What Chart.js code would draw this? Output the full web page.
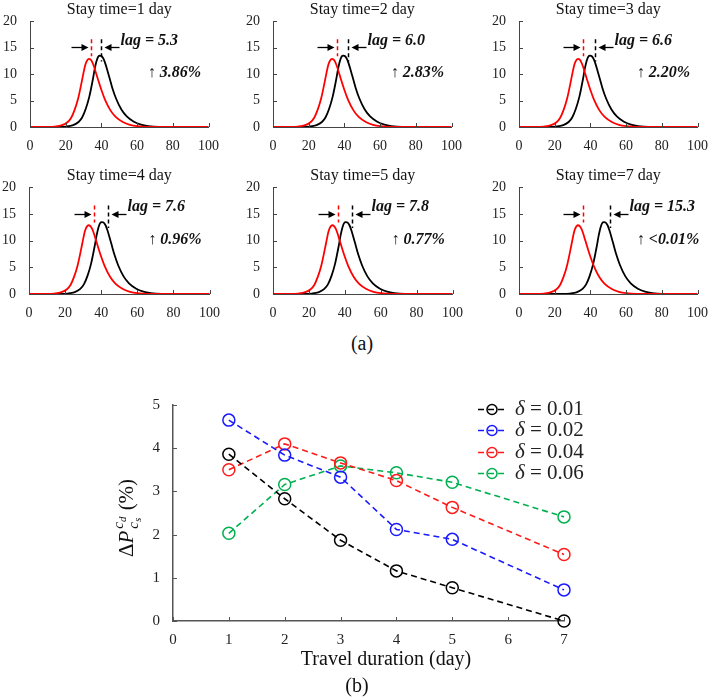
<!DOCTYPE html>
<html>
<head>
<meta charset="utf-8">
<script src="https://cdn.jsdelivr.net/npm/chart.js@4.4.0/dist/chart.umd.min.js"></script>
<style>
  body { margin: 0; width: 719px; height: 699px; background: #fff; position: relative; overflow: hidden; }
  canvas { position: absolute; }
  .cap { position: absolute; font: 20px "Liberation Serif", serif; color: #111; transform: translate(-50%, -50%); }
</style>
</head>
<body>
<div class="cap" style="left:362px;top:343px">(a)</div>
<script>
// ---- data: panel (a) ----
const stayDays = [1, 2, 3, 4, 5, 7];
const lagValues = ['5.3', '6.0', '6.6', '7.6', '7.8', '15.3'];
const riseValues = ['3.86%', '2.83%', '2.20%', '0.96%', '0.77%', '<0.01%'];
const redPeakMark = [34.3, 36.0, 36.1, 35.9, 36.3, 35.6];
const blackPeakMark = [39.6, 42.0, 42.7, 43.5, 44.1, 50.9];

const redX = [0, 9, 14, 18, 21, 23, 25, 27, 29, 30, 31, 32, 33, 34, 35, 36, 37, 38, 40, 42, 45, 48, 52, 56, 60, 66, 100];
const redY = [0, 0.01, 0.09, 0.34, 0.9, 1.7, 3.25, 5.45, 8.6, 10.3, 11.8, 12.6, 12.9, 12.75, 12.2, 11.3, 10.2, 9.1, 7.0, 5.2, 3.2, 1.9, 0.95, 0.42, 0.17, 0.04, 0];

const blackY = [0, 0.01, 0.09, 0.36, 0.95, 1.8, 3.4, 5.7, 9.0, 10.9, 12.4, 13.3, 13.5, 13.4, 12.9, 12.0, 10.9, 9.7, 7.3, 5.4, 3.3, 2.0, 1.0, 0.45, 0.18, 0.04, 0];
const blackXDay1 = [0, 15.2, 20.2, 24.2, 27.2, 29.2, 31.2, 33.2, 35.2, 36.2, 37.2, 38.2, 39.2, 40.2, 41.2, 42.2, 43.2, 44.2, 46.2, 48.2, 51.2, 54.2, 58.2, 62.2, 66.2, 72.2, 100];
const blackXDay2 = [0, 15.4, 20.4, 24.4, 27.4, 29.4, 31.4, 33.4, 35.4, 36.4, 37.4, 38.4, 39.4, 40.4, 41.4, 42.4, 43.4, 44.4, 46.4, 48.4, 51.4, 54.4, 58.4, 62.4, 66.4, 72.4, 100];
const blackXDay3 = [0, 15.8, 20.8, 24.8, 27.8, 29.8, 31.8, 33.8, 35.8, 36.8, 37.8, 38.8, 39.8, 40.8, 41.8, 42.8, 43.8, 44.8, 46.8, 48.8, 51.8, 54.8, 58.8, 62.8, 66.8, 72.8, 100];
const blackXDay4 = [0, 16.4, 21.4, 25.4, 28.4, 30.4, 32.4, 34.4, 36.4, 37.4, 38.4, 39.4, 40.4, 41.4, 42.4, 43.4, 44.4, 45.4, 47.4, 49.4, 52.4, 55.4, 59.4, 63.4, 67.4, 73.4, 100];
const blackXDay5 = [0, 16.6, 21.6, 25.6, 28.6, 30.6, 32.6, 34.6, 36.6, 37.6, 38.6, 39.6, 40.6, 41.6, 42.6, 43.6, 44.6, 45.6, 47.6, 49.6, 52.6, 55.6, 59.6, 63.6, 67.6, 73.6, 100];
const blackXDay7 = [0, 23.6, 28.6, 32.6, 35.6, 37.6, 39.6, 41.6, 43.6, 44.6, 45.6, 46.6, 47.6, 48.6, 49.6, 50.6, 51.6, 52.6, 54.6, 56.6, 59.6, 62.6, 66.6, 70.6, 74.6, 80.6, 100];
const blackXByPanel = [blackXDay1, blackXDay2, blackXDay3, blackXDay4, blackXDay5, blackXDay7];

// ---- data: panel (b) ----
const travelDays = [1, 2, 3, 4, 5, 7];
const deltaLabels = ['0.01', '0.02', '0.04', '0.06'];
const delta001 = [3.86, 2.83, 1.87, 1.16, 0.77, 0.0];
const delta002 = [4.65, 3.84, 3.33, 2.12, 1.89, 0.72];
const delta004 = [3.50, 4.10, 3.66, 3.25, 2.63, 1.54];
const delta006 = [2.03, 3.16, 3.59, 3.43, 3.21, 2.41];

const SERIF = '"Liberation Serif", "Times New Roman", serif';

function toPoints(xs, ys) {
  return xs.map((x, i) => ({ x: x, y: ys[i] }));
}

// small inward tick marks on both axes
const inwardTicks = {
  id: 'inwardTicks',
  afterDraw(chart, args, opts) {
    const ctx = chart.ctx, xs = chart.scales.x, ys = chart.scales.y;
    ctx.save();
    ctx.strokeStyle = opts.color || '#444';
    ctx.lineWidth = 1;
    ctx.beginPath();
    xs.ticks.forEach(t => {
      const p = Math.round(xs.getPixelForValue(t.value)) + 0.5;
      ctx.moveTo(p, ys.bottom); ctx.lineTo(p, ys.bottom - opts.len);
    });
    ys.ticks.forEach(t => {
      const p = Math.round(ys.getPixelForValue(t.value)) + 0.5;
      ctx.moveTo(xs.left, p); ctx.lineTo(xs.left + opts.len, p);
    });
    ctx.stroke();
    ctx.restore();
  }
};

function arrow(ctx, x0, x1, y) {
  const dir = x1 > x0 ? 1 : -1;
  ctx.beginPath();
  ctx.moveTo(x0, y); ctx.lineTo(x1 - dir * 5, y);
  ctx.stroke();
  ctx.beginPath();
  ctx.moveTo(x1, y); ctx.lineTo(x1 - dir * 7, y - 3.5); ctx.lineTo(x1 - dir * 7, y + 3.5);
  ctx.closePath(); ctx.fill();
}

// titles, peak marks, lag and rise texts of panel (a)
const panelNotes = {
  id: 'panelNotes',
  afterDraw(chart, args, o) {
    const { ctx, chartArea, scales: { x, y } } = chart;
    const i = o.index;
    ctx.save();
    ctx.fillStyle = '#111';
    ctx.font = '16px ' + SERIF;
    ctx.textAlign = 'center';
    ctx.textBaseline = 'middle';
    ctx.fillText('Stay time=' + stayDays[i] + ' day', (chartArea.left + chartArea.right) / 2, 10);

    const rx = Math.round(x.getPixelForValue(redPeakMark[i])) + 0.5;
    const bx = Math.round(x.getPixelForValue(blackPeakMark[i])) + 0.5;
    ctx.lineWidth = 1.5;
    ctx.setLineDash([4, 3]);
    ctx.strokeStyle = '#ff0000';
    ctx.beginPath(); ctx.moveTo(rx, y.getPixelForValue(16.6)); ctx.lineTo(rx, y.getPixelForValue(13.4)); ctx.stroke();
    ctx.strokeStyle = '#000';
    ctx.beginPath(); ctx.moveTo(bx, y.getPixelForValue(16.6)); ctx.lineTo(bx, y.getPixelForValue(12.4)); ctx.stroke();
    ctx.setLineDash([]);

    ctx.strokeStyle = '#000'; ctx.fillStyle = '#000'; ctx.lineWidth = 1.3;
    const ay = Math.round(y.getPixelForValue(15.1)) + 0.5;
    arrow(ctx, rx - 20, rx - 3, ay);
    arrow(ctx, bx + 18, bx + 3, ay);

    ctx.fillStyle = '#111';
    ctx.textAlign = 'left';
    ctx.font = 'italic bold 16px ' + SERIF;
    ctx.fillText('lag = ' + lagValues[i], bx + 19, y.getPixelForValue(16.3));

    const tx = x.getPixelForValue(66), ty = y.getPixelForValue(10.2);
    ctx.font = '16px ' + SERIF;
    ctx.fillText('\u2191 ', tx, ty);
    const w = ctx.measureText('\u2191 ').width;
    ctx.font = 'italic bold 16px ' + SERIF;
    ctx.fillText(riseValues[i], tx + w, ty);
    ctx.restore();
  }
};

// chart area boxes of the six small panels (page pixels)
const panelBoxes = [
  { left: 30, top: 17, w: 186, h: 110, rp: 14 },
  { left: 273, top: 17, w: 186, h: 110, rp: 14 },
  { left: 519, top: 17, w: 187, h: 110, rp: 13 },
  { left: 29, top: 183, w: 188, h: 111, rp: 14 },
  { left: 273, top: 183, w: 187, h: 111, rp: 14 },
  { left: 519, top: 183, w: 187, h: 111, rp: 13 }
];

panelBoxes.forEach((b, i) => {
  const cv = document.createElement('canvas');
  const cw = b.w + 30 + b.rp, ch = 17 + b.h + 33;
  cv.width = cw; cv.height = ch;
  cv.style.left = (b.left - 30) + 'px';
  cv.style.top = (b.top - 17) + 'px';
  cv.style.width = cw + 'px'; cv.style.height = ch + 'px';
  document.body.appendChild(cv);

  const tickFont = { family: SERIF, size: 14 };
  new Chart(cv, {
    type: 'line',
    data: {
      datasets: [
        { data: toPoints(redX, redY), borderColor: '#ff0000', borderWidth: 1.8, pointRadius: 0, cubicInterpolationMode: 'monotone', fill: false },
        { data: toPoints(blackXByPanel[i], blackY), borderColor: '#000000', borderWidth: 1.8, pointRadius: 0, cubicInterpolationMode: 'monotone', fill: false }
      ]
    },
    options: {
      responsive: false,
      animation: false,
      devicePixelRatio: 1,
      layout: { padding: { top: 17, right: b.rp, left: 0, bottom: 0 } },
      plugins: {
        legend: { display: false },
        tooltip: { enabled: false },
        inwardTicks: { len: 4, color: '#444' },
        panelNotes: { index: i }
      },
      scales: {
        x: {
          type: 'linear', min: 0, max: 100,
          ticks: { stepSize: 20, font: tickFont, color: '#222', padding: 11, maxRotation: 0 },
          grid: { display: false, drawTicks: false },
          border: { color: '#444', width: 1 },
          afterFit(s) { s.height = 33; }
        },
        y: {
          type: 'linear', min: 0, max: 20,
          ticks: { stepSize: 5, font: tickFont, color: '#222', padding: 13 },
          grid: { display: false, drawTicks: false },
          border: { color: '#444', width: 1 },
          afterFit(s) { s.width = 30; }
        }
      }
    },
    plugins: [inwardTicks, panelNotes]
  });
});

// ---- panel (b) ----
const bColors = ['#000000', '#1a1aff', '#ff1a1a', '#00b050'];
const bSeries = [delta001, delta002, delta004, delta006];

const bNotes = {
  id: 'bNotes',
  afterDraw(chart) {
    const ctx = chart.ctx;
    ctx.save();
    // legend
    chart.data.datasets.forEach((ds, k) => {
      const ly = Math.round(29 + k * 21.4) + 0.5;
      ctx.strokeStyle = ds.borderColor;
      ctx.lineWidth = 1.6;
      ctx.setLineDash([6, 4]);
      ctx.beginPath(); ctx.moveTo(378, ly); ctx.lineTo(406, ly); ctx.stroke();
      ctx.setLineDash([]);
      ctx.lineWidth = 1.5;
      ctx.beginPath(); ctx.arc(392, ly, 5, 0, Math.PI * 2); ctx.stroke();
      ctx.fillStyle = '#222';
      ctx.textBaseline = 'middle'; ctx.textAlign = 'left';
      ctx.font = 'italic 21px ' + SERIF;
      ctx.fillText('\u03b4', 415, ly);
      const w = ctx.measureText('\u03b4').width;
      ctx.font = '21px ' + SERIF;
      ctx.fillText(' = ' + deltaLabels[k], 415 + w, ly);
    });
    // axis title and caption
    ctx.fillStyle = '#111';
    ctx.textAlign = 'center';
    ctx.font = '20px ' + SERIF;
    ctx.fillText('Travel duration (day)', 286, 280);
    ctx.font = '20px ' + SERIF;
    ctx.fillText('(b)', 257, 307);
    ctx.restore();

    // rotated y label: ΔP_{c_s}^{c_d} (%)
    ctx.save();
    ctx.translate(26, 138);
    ctx.rotate(-Math.PI / 2);
    ctx.fillStyle = '#111';
    ctx.textAlign = 'left';
    ctx.textBaseline = 'alphabetic';
    ctx.font = '21px ' + SERIF; const wD = ctx.measureText('\u0394').width;
    ctx.font = 'italic 21px ' + SERIF; const wP = ctx.measureText('P').width;
    ctx.font = 'italic 15px ' + SERIF; const wc = ctx.measureText('c').width;
    ctx.font = 'italic 11px ' + SERIF; const wd = Math.max(ctx.measureText('d').width, ctx.measureText('s').width);
    ctx.font = '21px ' + SERIF; const wPct = ctx.measureText(' (%)').width;
    const total = wD + wP + 2 + wc + wd + 1 + wPct;
    let x = -total / 2;
    const base = 7;
    ctx.font = '21px ' + SERIF; ctx.fillText('\u0394', x, base); x += wD;
    ctx.font = 'italic 21px ' + SERIF; ctx.fillText('P', x, base); x += wP + 2;
    ctx.font = 'italic 15px ' + SERIF;
    ctx.fillText('c', x, base - 10);
    ctx.fillText('c', x, base + 5);
    ctx.font = 'italic 11px ' + SERIF;
    ctx.fillText('d', x + wc, base - 7);
    ctx.fillText('s', x + wc, base + 8);
    x += wc + wd + 1;
    ctx.font = '21px ' + SERIF; ctx.fillText(' (%)', x, base);
    ctx.restore();
  }
};

const bCanvas = document.createElement('canvas');
bCanvas.width = 619; bCanvas.height = 319;
bCanvas.style.left = '100px'; bCanvas.style.top = '380px';
bCanvas.style.width = '619px'; bCanvas.style.height = '319px';
document.body.appendChild(bCanvas);

new Chart(bCanvas, {
  type: 'line',
  data: {
    datasets: bSeries.map((vals, k) => ({
      label: '\u03b4 = ' + deltaLabels[k],
      data: toPoints(travelDays, vals),
      borderColor: bColors[k],
      borderWidth: 1.6,
      borderDash: [6, 4],
      pointStyle: 'circle',
      pointRadius: 6,
      pointBorderWidth: 1.5,
      pointBorderColor: bColors[k],
      pointBackgroundColor: 'rgba(0,0,0,0)',
      fill: false,
      clip: false
    }))
  },
  options: {
    responsive: false,
    animation: false,
    devicePixelRatio: 1,
    layout: { padding: { top: 25, right: 155, left: 0, bottom: 0 } },
    plugins: {
      legend: { display: false },
      tooltip: { enabled: false },
      inwardTicks: { len: 4, color: '#555' }
    },
    scales: {
      x: {
        type: 'linear', min: 0, max: 7,
        ticks: { stepSize: 1, font: { family: SERIF, size: 15 }, color: '#222', padding: 10, maxRotation: 0 },
        grid: { display: false, drawTicks: false },
        border: { color: '#555', width: 1.5 },
        afterFit(s) { s.height = 78; }
      },
      y: {
        type: 'linear', min: 0, max: 5,
        ticks: { stepSize: 1, font: { family: SERIF, size: 15 }, color: '#222', padding: 13 },
        grid: { display: false, drawTicks: false },
        border: { color: '#555', width: 1.5 },
        afterFit(s) { s.width = 73; }
      }
    }
  },
  plugins: [inwardTicks, bNotes]
});
</script>
</body>
</html>
